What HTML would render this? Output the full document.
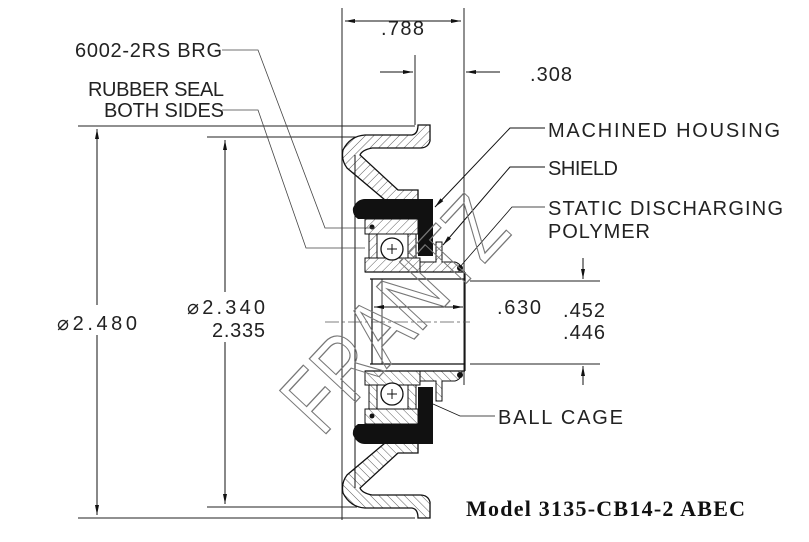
<!DOCTYPE html>
<html><head><style>
html,body{margin:0;padding:0;background:#fff;}
svg{display:block;}
text{font-family:"Liberation Sans",sans-serif;font-size:20px;fill:#222;}
</style></head><body>
<svg width="809" height="542" viewBox="0 0 809 542" xmlns="http://www.w3.org/2000/svg">
<defs>
<pattern id="h" width="6" height="6" patternUnits="userSpaceOnUse" patternTransform="rotate(45)">
<line x1="0" y1="0" x2="0" y2="6" stroke="#333" stroke-width="0.8"/>
</pattern>
<marker id="a" viewBox="0 0 10 10" refX="10" refY="5" markerWidth="10" markerHeight="10" orient="auto-start-reverse" markerUnits="userSpaceOnUse"><path d="M0,3 L10,5 L0,7 z" fill="#111"/></marker>
<g id="half">
 <path d="M418,125 L430,125 L430,141 Q428,148 420,148 L372,148 Q362,150 360,155 L398,190 L418,190 L418,200 L385,200 L347,168 Q341,160 343,150 Q350,136 365,135 L412,135 Q418,134 418,125 Z" fill="url(#h)" stroke="#111" stroke-width="1.3"/>
 <path d="M365,199 L433,199 L433,256 L418,256 L418,219 L358,219 Q352,215 353,208 Q357,199 365,199 Z" fill="#111"/>
 <rect x="365" y="219" width="53" height="15" fill="url(#h)" stroke="#111" stroke-width="1"/>
 <rect x="365" y="258" width="55" height="14" fill="url(#h)" stroke="#111" stroke-width="1"/>
 <rect x="369" y="234" width="8" height="24" fill="url(#h)" stroke="#111" stroke-width="1"/>
 <rect x="408" y="234" width="8" height="24" fill="url(#h)" stroke="#111" stroke-width="1"/>
 <circle cx="392" cy="249" r="11" fill="#fff" stroke="#111" stroke-width="1.3"/>
 <line x1="387" y1="249" x2="397" y2="249" stroke="#111"/><line x1="392" y1="244" x2="392" y2="254" stroke="#111"/>
 <circle cx="372" cy="227" r="2.5" fill="#111"/>
 <path d="M420,262 L436,262 L436,242 L442,242 L442,262 L455,262 Q462,264 462,272 L420,272 Z" fill="url(#h)" stroke="#111" stroke-width="1"/>
 <circle cx="460" cy="268" r="3" fill="#111"/>
 <line x1="365" y1="272" x2="465" y2="272" stroke="#111" stroke-width="1.2"/>
 <line x1="370" y1="279" x2="465" y2="279" stroke="#111" stroke-width="1.2"/>
</g>
</defs>

<line x1="342" y1="8" x2="342" y2="520" stroke="#222" stroke-width="1"/>
<line x1="464" y1="8" x2="464" y2="385" stroke="#222" stroke-width="1"/>
<line x1="415" y1="55" x2="415" y2="125" stroke="#222" stroke-width="1"/>
<line x1="345" y1="21" x2="461" y2="21" stroke="#111" marker-start="url(#a)" marker-end="url(#a)"/>
<text x="381" y="35" textLength="43">.788</text>
<line x1="380" y1="72" x2="413" y2="72" stroke="#111" marker-end="url(#a)"/>
<line x1="500" y1="72" x2="466" y2="72" stroke="#111" marker-end="url(#a)"/>
<text x="530" y="81" textLength="42">.308</text>

<line x1="78" y1="126" x2="415" y2="126" stroke="#222"/>
<line x1="78" y1="518" x2="415" y2="518" stroke="#222"/>
<line x1="97" y1="129" x2="97" y2="515" stroke="#111" marker-start="url(#a)" marker-end="url(#a)"/>
<line x1="207" y1="137" x2="357" y2="137" stroke="#222"/>
<line x1="207" y1="507" x2="357" y2="507" stroke="#222"/>
<line x1="225" y1="140" x2="225" y2="504" stroke="#111" marker-start="url(#a)" marker-end="url(#a)"/>
<rect x="55" y="305" width="84" height="30" fill="#fff"/>
<text x="57" y="330" textLength="80">⌀2.480</text>
<rect x="185" y="292" width="84" height="50" fill="#fff"/>
<text x="187" y="314" textLength="78">⌀2.340</text>
<text x="212" y="337" textLength="53">2.335</text>

<use href="#half"/>
<use href="#half" transform="translate(0,643) scale(1,-1)"/>
<line x1="372" y1="279" x2="372" y2="364" stroke="#111" stroke-width="1.2"/>
<line x1="382" y1="279" x2="382" y2="364" stroke="#111" stroke-width="0.8"/>
<line x1="465" y1="272" x2="465" y2="371" stroke="#111" stroke-width="1.2"/>
<line x1="355" y1="155" x2="355" y2="488" stroke="#111" stroke-width="1"/>
<line x1="325" y1="322" x2="470" y2="322" stroke="#555" stroke-width="0.8" stroke-dasharray="14,3,3,3"/>
<line x1="374" y1="307" x2="463" y2="307" stroke="#111" marker-start="url(#a)" marker-end="url(#a)"/>
<text x="497" y="314" textLength="44">.630</text>

<line x1="470" y1="281" x2="600" y2="281" stroke="#222"/>
<line x1="470" y1="364" x2="600" y2="364" stroke="#222"/>
<line x1="583" y1="258" x2="583" y2="279" stroke="#111" marker-end="url(#a)"/>
<line x1="583" y1="385" x2="583" y2="366" stroke="#111" marker-end="url(#a)"/>
<text x="563" y="317" textLength="42">.452</text>
<text x="563" y="339" textLength="42">.446</text>

<text x="75" y="57" textLength="147">6002-2RS BRG</text>
<polyline points="222,50 258,50 325,228 375,228" fill="none" stroke="#444" stroke-width="0.8"/>
<text x="88" y="96" textLength="136">RUBBER SEAL</text>
<text x="104" y="117" textLength="120">BOTH SIDES</text>
<polyline points="222,110 258,110 306,248 365,248" fill="none" stroke="#444" stroke-width="0.8"/>
<text x="548" y="137" textLength="232">MACHINED HOUSING</text>
<polyline points="545,128 510,128 435,207" fill="none" stroke="#111" stroke-width="1" marker-end="url(#a)"/>
<text x="548" y="175" textLength="70">SHIELD</text>
<polyline points="545,167 510,167 443,245" fill="none" stroke="#111" stroke-width="1" marker-end="url(#a)"/>
<text x="548" y="215" textLength="235">STATIC DISCHARGING</text>
<text x="548" y="238" textLength="102">POLYMER</text>
<polyline points="545,207 512,207 459,268" fill="none" stroke="#111" stroke-width="0.8"/>
<text x="498" y="424" textLength="125">BALL CAGE</text>
<polyline points="495,416 460,416 433,404" fill="none" stroke="#111" stroke-width="0.8"/>

<text x="0" y="0" transform="translate(322,438) rotate(-47)" textLength="280" lengthAdjust="spacingAndGlyphs" style="font-size:92px;fill:none;stroke:#777;stroke-width:1.3">FRANTZ</text>

<text x="466" y="516" textLength="279" style="font-family:'Liberation Serif',serif;font-weight:bold;font-size:22px;fill:#111">Model 3135-CB14-2 ABEC</text>
</svg>
</body></html>
